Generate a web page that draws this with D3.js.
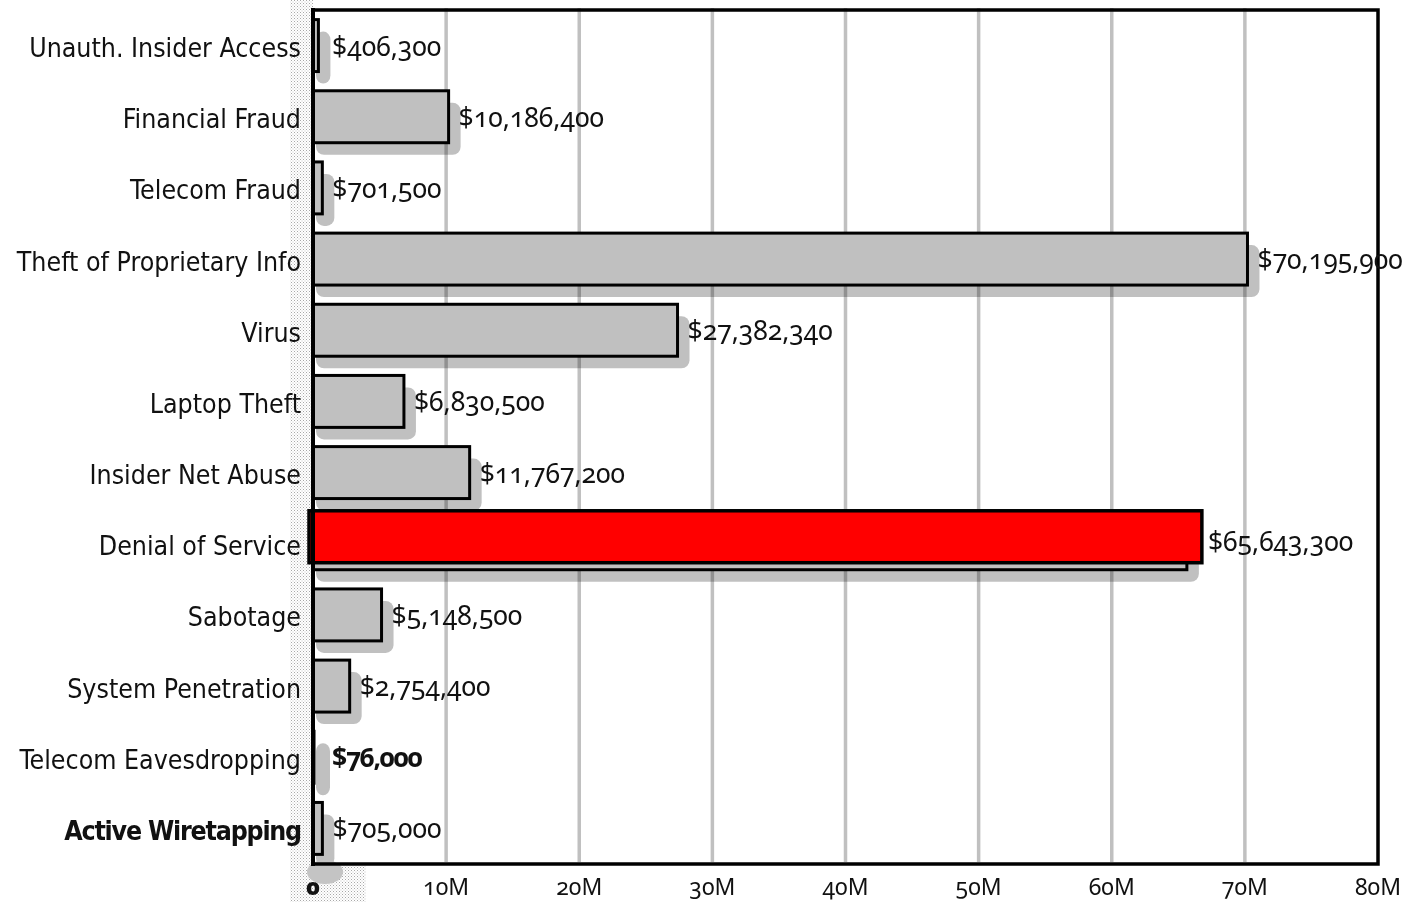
<!DOCTYPE html>
<html>
<head>
<meta charset="utf-8">
<script src="https://cdn.jsdelivr.net/npm/d3@7"></script>
<style>
  html, body { margin: 0; padding: 0; background: #fff; }
  svg { display: block; }
  .cat { font-family: "DejaVu Sans Condensed", "DejaVu Sans", sans-serif; font-size: 26.5px; fill: #111; }
  .val { font-family: "Noto Sans", "Open Sans", sans-serif; font-size: 26.5px; fill: #111;
    font-variant-numeric: oldstyle-nums; font-feature-settings: "onum" 1; }
  .tick-label { font-family: "Noto Sans", "Open Sans", sans-serif; font-size: 23px; fill: #111;
    font-variant-numeric: oldstyle-nums; font-feature-settings: "onum" 1; }
</style>
</head>
<body>
<svg id="chart" width="1408" height="902"></svg>
<script>
// Losses by type of attack, in dollars
const categories = [
  "Unauth. Insider Access", "Financial Fraud", "Telecom Fraud", "Theft of Proprietary Info",
  "Virus", "Laptop Theft", "Insider Net Abuse", "Denial of Service", "Sabotage",
  "System Penetration", "Telecom Eavesdropping", "Active Wiretapping"
];
const losses = [
  406300, 10186400, 701500, 70195900, 27382340, 6830500, 11767200,
  65643300, 5148500, 2754400, 76000, 705000
];
const valueLabels = [
  "$406,300", "$10,186,400", "$701,500", "$70,195,900", "$27,382,340", "$6,830,500",
  "$11,767,200", "$65,643,300", "$5,148,500", "$2,754,400", "$76,000", "$705,000"
];
const tickValues = [0, 10e6, 20e6, 30e6, 40e6, 50e6, 60e6, 70e6, 80e6];
const tickLabels = ["0", "10M", "20M", "30M", "40M", "50M", "60M", "70M", "80M"];
const highlighted = "Denial of Service";
const boldRows = ["Active Wiretapping"];
const boldValues = ["Telecom Eavesdropping"];

const svg = d3.select("#chart");
const plotLeft = 313, plotRight = 1378, plotTop = 10, plotBottom = 864;

const x = d3.scaleLinear().domain([0, 80e6]).range([plotLeft, plotRight]);
const y = d3.scaleBand().domain(categories).range([plotTop, plotBottom])
  .paddingInner(0.27).paddingOuter(0.135);

const rows = categories.map((c, i) => ({ cat: c, v: losses[i], label: valueLabels[i] }));

// stipple pattern for the strip beside the category axis
const defs = svg.append("defs");
const pat = defs.append("pattern").attr("id", "stipple")
  .attr("width", 3).attr("height", 3).attr("patternUnits", "userSpaceOnUse");
pat.append("rect").attr("width", 3).attr("height", 3).attr("fill", "#fff");
pat.append("rect").attr("x", 0).attr("y", 0).attr("width", 1).attr("height", 1).attr("fill", "#a8a8a8");
pat.append("rect").attr("x", 1.5).attr("y", 1.5).attr("width", 1).attr("height", 1).attr("fill", "#c4c4c4");

svg.append("rect").attr("x", 290).attr("y", 0).attr("width", plotLeft - 290).attr("height", 902)
  .attr("fill", "url(#stipple)");
svg.append("rect").attr("x", 296).attr("y", plotBottom + 2).attr("width", 70).attr("height", 902 - plotBottom - 2)
  .attr("fill", "url(#stipple)");

// drop shadows behind the bars
const shadowDx = 12, shadowDy = 12;
svg.append("g").selectAll("rect").data(rows).join("rect")
  .attr("x", plotLeft + 3)
  .attr("y", d => y(d.cat) + shadowDy)
  .attr("width", d => Math.max(14, x(d.v) - plotLeft + shadowDx - 3))
  .attr("height", y.bandwidth())
  .attr("rx", 8)
  .attr("fill", "#c0c0c0");
// a soft patch under the axis corner
svg.append("ellipse").attr("cx", plotLeft + 12).attr("cy", plotBottom + 8).attr("rx", 18).attr("ry", 12)
  .attr("fill", "#c4c4c4");

// plot frame
svg.append("rect").attr("x", plotLeft).attr("y", plotTop).attr("width", plotRight - plotLeft).attr("height", plotBottom - plotTop)
  .attr("fill", "none").attr("stroke", "#000").attr("stroke-width", 3.5);

// vertical gridlines
svg.append("g").selectAll("line").data(tickValues.slice(1, -1)).join("line")
  .attr("x1", d => x(d)).attr("x2", d => x(d))
  .attr("y1", plotTop - 2).attr("y2", plotBottom - 2)
  .attr("stroke", "#c0c0c0").attr("stroke-width", 3.5)
  .style("mix-blend-mode", "multiply");

// bars
svg.append("g").selectAll("rect").data(rows).join("rect")
  .attr("x", plotLeft)
  .attr("y", d => y(d.cat))
  .attr("width", d => Math.max(0.5, x(d.v) - plotLeft))
  .attr("height", y.bandwidth())
  .attr("fill", "#c0c0c0")
  .attr("stroke", "#000").attr("stroke-width", 3);

// highlighted bar, raised above its own grey bar
const hl = rows.find(d => d.cat === highlighted);
svg.append("rect")
  .attr("x", plotLeft - 4)
  .attr("y", y(hl.cat) - 7)
  .attr("width", x(hl.v) - plotLeft + 19)
  .attr("height", y.bandwidth())
  .attr("fill", "#ff0000")
  .attr("stroke", "#000").attr("stroke-width", 3.5);

// left axis line
svg.append("line").attr("x1", plotLeft).attr("x2", plotLeft).attr("y1", plotTop - 2).attr("y2", plotBottom + 2)
  .attr("stroke", "#000").attr("stroke-width", 4);

// value labels
svg.append("g").selectAll("text").data(rows).join("text")
  .attr("class", "val")
  .attr("x", d => d.cat === highlighted ? x(d.v) + 21 : Math.max(x(d.v), plotLeft + 9) + 10)
  .attr("y", d => y(d.cat) + y.bandwidth() / 2 + (d.cat === highlighted ? -3 : 0))
  .attr("dominant-baseline", "central")
  .style("font-weight", d => boldValues.includes(d.cat) ? "bold" : null)
  .style("letter-spacing", d => boldValues.includes(d.cat) ? "-1.5px" : null)
  .text(d => d.label);

// category labels
svg.append("g").selectAll("text").data(rows).join("text")
  .attr("class", "cat")
  .attr("x", 301)
  .attr("y", d => y(d.cat) + y.bandwidth() / 2 + 2)
  .attr("text-anchor", "end")
  .attr("dominant-baseline", "central")
  .style("font-weight", d => boldRows.includes(d.cat) ? "bold" : null)
  .style("letter-spacing", d => boldRows.includes(d.cat) ? "-1.2px" : null)
  .text(d => d.cat);

// x tick labels
svg.append("g").selectAll("text").data(tickValues).join("text")
  .attr("class", "tick-label")
  .attr("x", d => x(d))
  .attr("y", 886)
  .attr("text-anchor", "middle")
  .attr("dominant-baseline", "central")
  .style("font-weight", (d, i) => i === 0 ? "900" : null)
  .text((d, i) => tickLabels[i]);
</script>
</body>
</html>
